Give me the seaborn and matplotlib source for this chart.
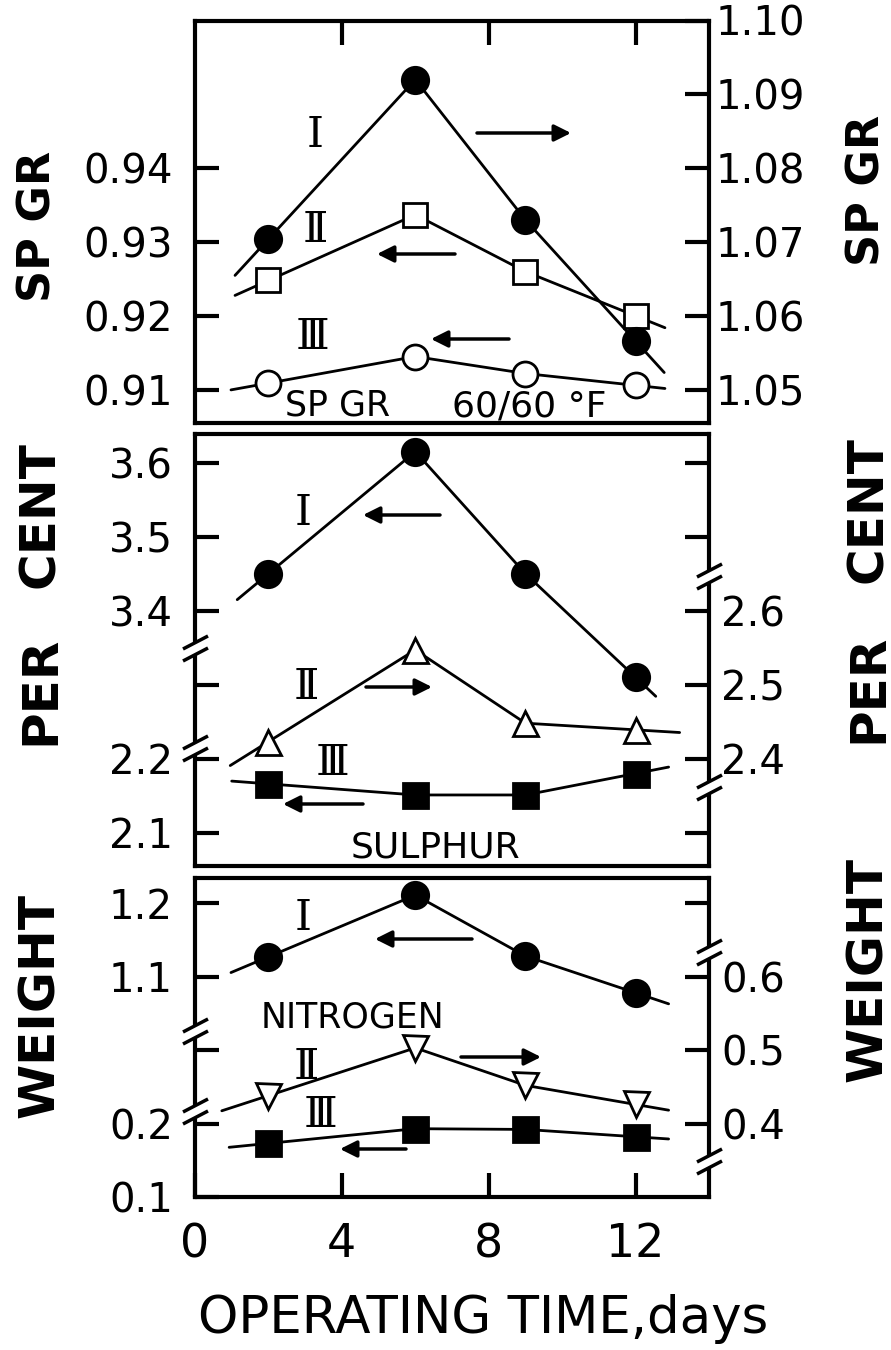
import numpy as np
import matplotlib
matplotlib.use("Agg")
import matplotlib.pyplot as plt
from matplotlib.patches import FancyArrowPatch
from matplotlib.path import Path
import seaborn as sns

sns.set_style("ticks")
plt.rcParams["font.family"] = ["DejaVu Sans"]
plt.rcParams["text.color"] = "black"
plt.rcParams["axes.labelcolor"] = "black"
plt.rcParams["xtick.color"] = "black"
plt.rcParams["ytick.color"] = "black"

# operating time, days
days = [2, 6, 9, 12]

# SP GR 60/60 F  (I on the right scale, II and III on the left scale)
spgr_I = [1.0704, 1.0920, 1.0730, 1.0566]
spgr_II = [0.9248, 0.9337, 0.9260, 0.9200]
spgr_III = [0.9109, 0.9145, 0.9122, 0.9106]

# sulphur, weight per cent  (I left upper, II right, III left lower)
sul_I = [3.450, 3.615, 3.450, 3.310]
sul_II = [2.423, 2.547, 2.448, 2.439]
sul_III = [2.166, 2.151, 2.151, 2.180]

# nitrogen, weight per cent  (I left upper, II right, III left lower)
nit_I = [1.127, 1.211, 1.128, 1.078]
nit_II = [0.438, 0.503, 0.452, 0.426]
nit_III = [0.173, 0.193, 0.192, 0.182]

x_ticks = [0, 4, 8, 12]
x_ticks_top = [4, 8, 12]

spgr_left_ticks = [0.91, 0.92, 0.93, 0.94]
spgr_left_labels = ["0.91", "0.92", "0.93", "0.94"]
spgr_right_ticks = [1.05, 1.06, 1.07, 1.08, 1.09, 1.10]
spgr_right_labels = ["1.05", "1.06", "1.07", "1.08", "1.09", "1.10"]

sul_up_ticks = [3.3, 3.4, 3.5, 3.6]
sul_up_labels = ["", "3.4", "3.5", "3.6"]
sul_low_ticks = [2.1, 2.2]
sul_low_labels = ["2.1", "2.2"]
sul_right_ticks = [2.3, 2.4, 2.5, 2.6, 2.7, 2.8]
sul_right_labels = ["", "2.4", "2.5", "2.6", "", ""]

nit_up_ticks = [1.0, 1.1, 1.2]
nit_up_labels = ["", "1.1", "1.2"]
nit_low_ticks = [0.1, 0.2]
nit_low_labels = ["0.1", "0.2"]
nit_right_ticks = [0.4, 0.5, 0.6, 0.7]
nit_right_labels = ["0.4", "0.5", "0.6", ""]

names = ["Ⅰ", "Ⅱ", "Ⅲ"]

W, H = 891, 1350
fig = plt.figure(figsize=(W / 100, H / 100), dpi=100)


def box(l, t, r, b):
    return [l / W, 1 - b / H, (r - l) / W, (b - t) / H]


def fp(x, y):
    return (x / W, 1 - y / H)


ax1 = fig.add_axes(box(195, 20.5, 709, 423))
ax2 = fig.add_axes(box(195, 433.5, 709, 866))
ax3 = fig.add_axes(box(195, 877.5, 709, 1197))

ax1r = ax1.twinx()
ax2r = ax2.twinx()
ax2b = ax2.twinx()
ax3r = ax3.twinx()
ax3b = ax3.twinx()
for a in (ax2b, ax3b):
    a.yaxis.tick_left()


def series(ax, y, marker, face, x0=1.0, x1=12.85, ms=19):
    x = np.array(days, float)
    y = np.array(y, float)
    ya = y[0] + (x0 - x[0]) * (y[1] - y[0]) / (x[1] - x[0])
    yb = y[-1] + (x1 - x[-1]) * (y[-1] - y[-2]) / (x[-1] - x[-2])
    ax.plot([x0, x[0]], [ya, y[0]], color="black", lw=2)
    ax.plot([x[-1], x1], [y[-1], yb], color="black", lw=2)
    sns.lineplot(x=x, y=y, ax=ax, color="black", lw=2, marker=marker, ms=ms,
                 markerfacecolor=face, markeredgecolor="black", mew=2)


# panel 1: specific gravity
series(ax1, spgr_II, "s", "white", 1.09, 12.8, ms=17)
series(ax1, spgr_III, "o", "white", 0.98, 12.8, ms=18)
series(ax1r, spgr_I, "o", "black", 1.09, 12.78)

# panel 2: sulphur
series(ax2, sul_I, "o", "black", 1.15, 12.55)
series(ax2r, sul_II, "^", "white", 0.96, 13.2, ms=18)
series(ax2b, sul_III, "s", "black", 1.0, 12.9, ms=18)

# panel 3: nitrogen
series(ax3, nit_I, "o", "black", 0.98, 12.9)
series(ax3r, nit_II, "v", "white", 0.73, 12.9, ms=18)
series(ax3b, nit_III, "s", "black", 0.93, 12.9, ms=18)

ax1.set_ylim(0.9055, 0.9600)
ax1r.set_ylim(1.0455, 1.1000)
ax2.set_ylim(3.055, 3.6395)
ax2b.set_ylim(2.055, 2.6395)
ax2r.set_ylim(2.255, 2.8395)
ax3.set_ylim(0.800, 1.235)
ax3b.set_ylim(0.100, 0.535)
ax3r.set_ylim(0.300, 0.735)

ax1.set_yticks(spgr_left_ticks, spgr_left_labels)
ax1r.set_yticks(spgr_right_ticks, spgr_right_labels)
ax2.set_yticks(sul_up_ticks, sul_up_labels)
ax2b.set_yticks(sul_low_ticks, sul_low_labels)
ax2r.set_yticks(sul_right_ticks, sul_right_labels)
ax3.set_yticks(nit_up_ticks, nit_up_labels)
ax3b.set_yticks(nit_low_ticks, nit_low_labels)
ax3r.set_yticks(nit_right_ticks, nit_right_labels)

for a in (ax1, ax2, ax3):
    a.set_xlim(0, 14)
    a.set_xlabel("")
    a.set_ylabel("")
    for s in a.spines.values():
        s.set_linewidth(3)
        s.set_color("black")
    a.tick_params(axis="y", direction="in", length=17, width=3,
                  labelsize=29, pad=16)

for a in (ax1r, ax2r, ax3r, ax2b, ax3b):
    a.set_ylabel("")
    for s in a.spines.values():
        s.set_visible(False)
for a in (ax2b, ax3b):
    a.tick_params(axis="y", direction="in", length=17, width=3,
                  labelsize=29, pad=16)
ax1r.tick_params(axis="y", direction="in", length=17, width=3,
                 labelsize=29, pad=5)
for a in (ax2r, ax3r):
    a.tick_params(axis="y", direction="in", length=17, width=3,
                  labelsize=29, pad=9)

ax1.xaxis.tick_top()
ax1.set_xticks(x_ticks_top)
ax1.tick_params(axis="x", direction="in", length=17, width=3,
                top=True, bottom=False, labeltop=False, labelbottom=False)
ax2.tick_params(axis="x", top=False, bottom=False,
                labeltop=False, labelbottom=False)
ax3.set_xticks(x_ticks)
ax3.tick_params(axis="x", direction="in", length=17, width=3,
                labelsize=33, pad=18, top=False)

# axis break marks "//"
brk_path = Path([(-12.5, -12.5), (12.5, 0.5), (-12.5, -0.5), (12.5, 12.5)],
                [Path.MOVETO, Path.LINETO, Path.MOVETO, Path.LINETO])


def axis_break(ax, side, y):
    xa = 0 if side == "left" else 1
    tr = ax.get_yaxis_transform()
    ax.plot([xa], [y], transform=tr, marker="s", ms=8, mfc="white",
            mew=0, clip_on=False, zorder=6)
    ax.plot([xa], [y], transform=tr, marker=brk_path, ms=18, color="black",
            mew=2.5, fillstyle="none", clip_on=False, zorder=7)


axis_break(ax2, "left", 3.350)
axis_break(ax2, "left", 3.215)
axis_break(ax2, "right", 3.447)
axis_break(ax2, "right", 3.162)
axis_break(ax3, "left", 1.026)
axis_break(ax3, "left", 0.917)
axis_break(ax3, "right", 1.134)
axis_break(ax3, "right", 0.849)


def label(x, y, s, size=24, **kw):
    fig.text(*fp(x, y), s, ha="center", va="center", fontsize=size, **kw)


def arrow(x0, x1, y):
    fig.add_artist(FancyArrowPatch(fp(x0, y), fp(x1, y), transform=fig.transFigure,
                                   arrowstyle="-|>", mutation_scale=25, lw=2.5,
                                   color="black", shrinkA=0, shrinkB=0))


roman = ["DejaVu Serif", "DejaVu Sans"]
rsize = 31

# panel 1 annotations
label(315, 135, names[0], size=rsize, family=roman)
label(315, 230, names[1], size=rsize, family=roman)
label(312, 337, names[2], size=rsize, family=roman)
arrow(477, 571, 133)
arrow(455, 377, 254)
arrow(509, 431, 339)
label(338, 406, "SP GR", size=25)
label(529, 406, "60/60 °F", size=26)

# panel 2 annotations
label(303, 513, names[0], size=rsize, family=roman)
label(306, 687, names[1], size=rsize, family=roman)
label(332, 763, names[2], size=rsize, family=roman)
arrow(440, 363, 515)
arrow(366, 432, 687)
arrow(363, 283, 804)
label(435, 848, "SULPHUR", size=26)

# panel 3 annotations
label(303, 918, names[0], size=rsize, family=roman)
label(306, 1067, names[1], size=rsize, family=roman)
label(320, 1115, names[2], size=rsize, family=roman)
arrow(472, 375, 939)
arrow(461, 541, 1057)
arrow(406, 340, 1149)
label(353, 1017, "NITROGEN", size=25)

# axis titles
label(38, 226, "SP GR", size=32, rotation=90, fontweight="bold")
label(867, 190, "SP GR", size=32, rotation=90, fontweight="bold")
for x, ys in ((40, (515, 690, 1005)), (868, (510, 688, 970))):
    for word, y in zip(("CENT", "PER", "WEIGHT"), ys):
        label(x, y, word, size=36, rotation=90, fontweight="bold")

fig.text(*fp(483, 1333), "OPERATING TIME,days", ha="center", va="baseline",
         fontsize=37)

fig.savefig("out.png", dpi=100, facecolor="white")
